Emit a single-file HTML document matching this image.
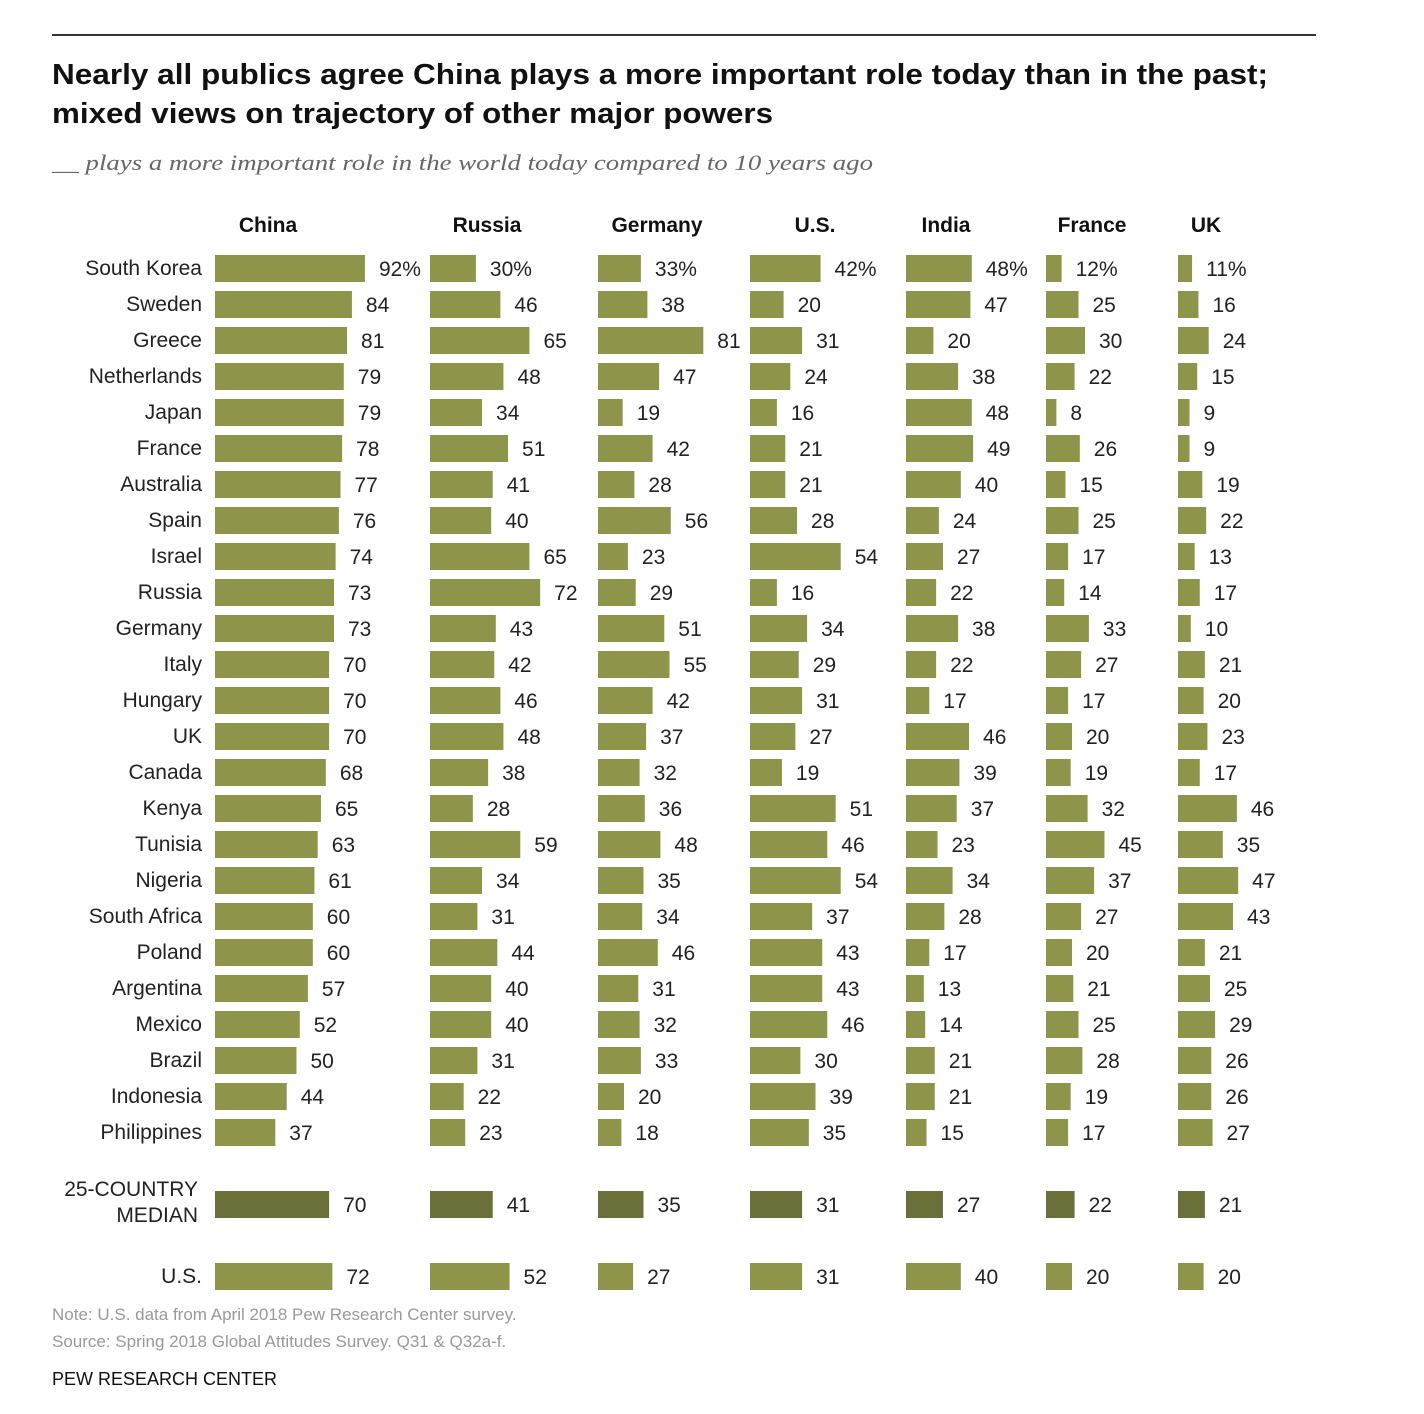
<!DOCTYPE html>
<html><head><meta charset="utf-8"><style>
html,body{margin:0;padding:0;background:#fff;}
svg{display:block;font-family:"Liberation Sans",sans-serif;}
</style></head><body>
<svg id="chart" width="1424" height="1414" viewBox="0 0 1424 1414" xmlns="http://www.w3.org/2000/svg">
<rect width="1424" height="1414" fill="#fff"/>
<line x1="52" y1="35" x2="1316" y2="35" stroke="#333" stroke-width="2"/>
<text x="52" y="84" font-size="29" font-weight="bold" fill="#111" textLength="1216" lengthAdjust="spacingAndGlyphs">Nearly all publics agree China plays a more important role today than in the past;</text>
<text x="52" y="123" font-size="29" font-weight="bold" fill="#111" textLength="721" lengthAdjust="spacingAndGlyphs">mixed views on trajectory of other major powers</text>
<text x="52" y="170" font-size="22" font-style="italic" fill="#666" font-family="Liberation Serif, serif" textLength="821" lengthAdjust="spacingAndGlyphs">__ plays a more important role in the world today compared to 10 years ago</text>
<g id="plot"></g>
<text x="52" y="1320" font-size="17" fill="#999">Note: U.S. data from April 2018 Pew Research Center survey.</text>
<text x="52" y="1347" font-size="17" fill="#999">Source: Spring 2018 Global Attitudes Survey. Q31 &amp; Q32a-f.</text>
<text x="52" y="1385" font-size="18" fill="#111" textLength="225" lengthAdjust="spacingAndGlyphs">PEW RESEARCH CENTER</text>
</svg>
<script>
const countries = ["South Korea","Sweden","Greece","Netherlands","Japan","France","Australia","Spain","Israel","Russia","Germany","Italy","Hungary","UK","Canada","Kenya","Tunisia","Nigeria","South Africa","Poland","Argentina","Mexico","Brazil","Indonesia","Philippines"];
const powers = ["China","Russia","Germany","U.S.","India","France","UK"];
const chinaVals   = [92,84,81,79,79,78,77,76,74,73,73,70,70,70,68,65,63,61,60,60,57,52,50,44,37];
const russiaVals  = [30,46,65,48,34,51,41,40,65,72,43,42,46,48,38,28,59,34,31,44,40,40,31,22,23];
const germanyVals = [33,38,81,47,19,42,28,56,23,29,51,55,42,37,32,36,48,35,34,46,31,32,33,20,18];
const usVals      = [42,20,31,24,16,21,21,28,54,16,34,29,31,27,19,51,46,54,37,43,43,46,30,39,35];
const indiaVals   = [48,47,20,38,48,49,40,24,27,22,38,22,17,46,39,37,23,34,28,17,13,14,21,21,15];
const franceVals  = [12,25,30,22,8,26,15,25,17,14,33,27,17,20,19,32,45,37,27,20,21,25,28,19,17];
const ukVals      = [11,16,24,15,9,9,19,22,13,17,10,21,20,23,17,46,35,47,43,21,25,29,26,26,27];
const medianVals  = [70,41,35,31,27,22,21];
const usPublicVals= [72,52,27,31,40,20,20];

const seriesList = [chinaVals,russiaVals,germanyVals,usVals,indiaVals,franceVals,ukVals];
const colX0 = [215,430,598,750,906,1046,1178];
const colScale = [1.63,1.53,1.30,1.68,1.37,1.30,1.28];
const headerX = [268,487,657,815,946,1092,1206];
const NS="http://www.w3.org/2000/svg";
const plot=document.getElementById('plot');
const rowY = i => 268 + i*36;
const xScale = (c,v) => v*colScale[c];

function mk(tag,attrs,text){const e=document.createElementNS(NS,tag);for(const k in attrs)e.setAttribute(k,attrs[k]);if(text!==undefined)e.textContent=text;plot.appendChild(e);return e;}

powers.forEach((p,c)=>{
  const t=mk('text',{x:headerX[c],y:232,'font-size':21,'font-weight':'bold','text-anchor':'middle',fill:'#111'},p);
  
  
});
countries.forEach((n,i)=>{
  const t=mk('text',{x:202,y:rowY(i)+7,'font-size':21,'text-anchor':'end',fill:'#222'},n);
  
  
});
function bar(c,v,cy,color,suffix){
  const w=xScale(c,v);
  const r=mk('rect',{x:colX0[c],y:cy-13,width:w,height:27,fill:color});
  
  
  const t=mk('text',{x:colX0[c]+w+14,y:cy+8,'font-size':21,fill:'#222'},v+suffix);
  
  
}
seriesList.forEach((vals,c)=>{
  vals.forEach((v,i)=>bar(c,v,rowY(i),'#8f944b',i===0?'%':''));
  bar(c,medianVals[c],1204,'#6b6f39','');
  bar(c,usPublicVals[c],1276,'#8f944b','');
});
let t=mk('text',{x:198,y:1196,'font-size':21,'text-anchor':'end',fill:'#222'},'25-COUNTRY');


t=mk('text',{x:198,y:1222,'font-size':21,'text-anchor':'end',fill:'#222'},'MEDIAN');


t=mk('text',{x:202,y:1283,'font-size':21,'text-anchor':'end',fill:'#222'},'U.S.');


</script>
</body></html>
